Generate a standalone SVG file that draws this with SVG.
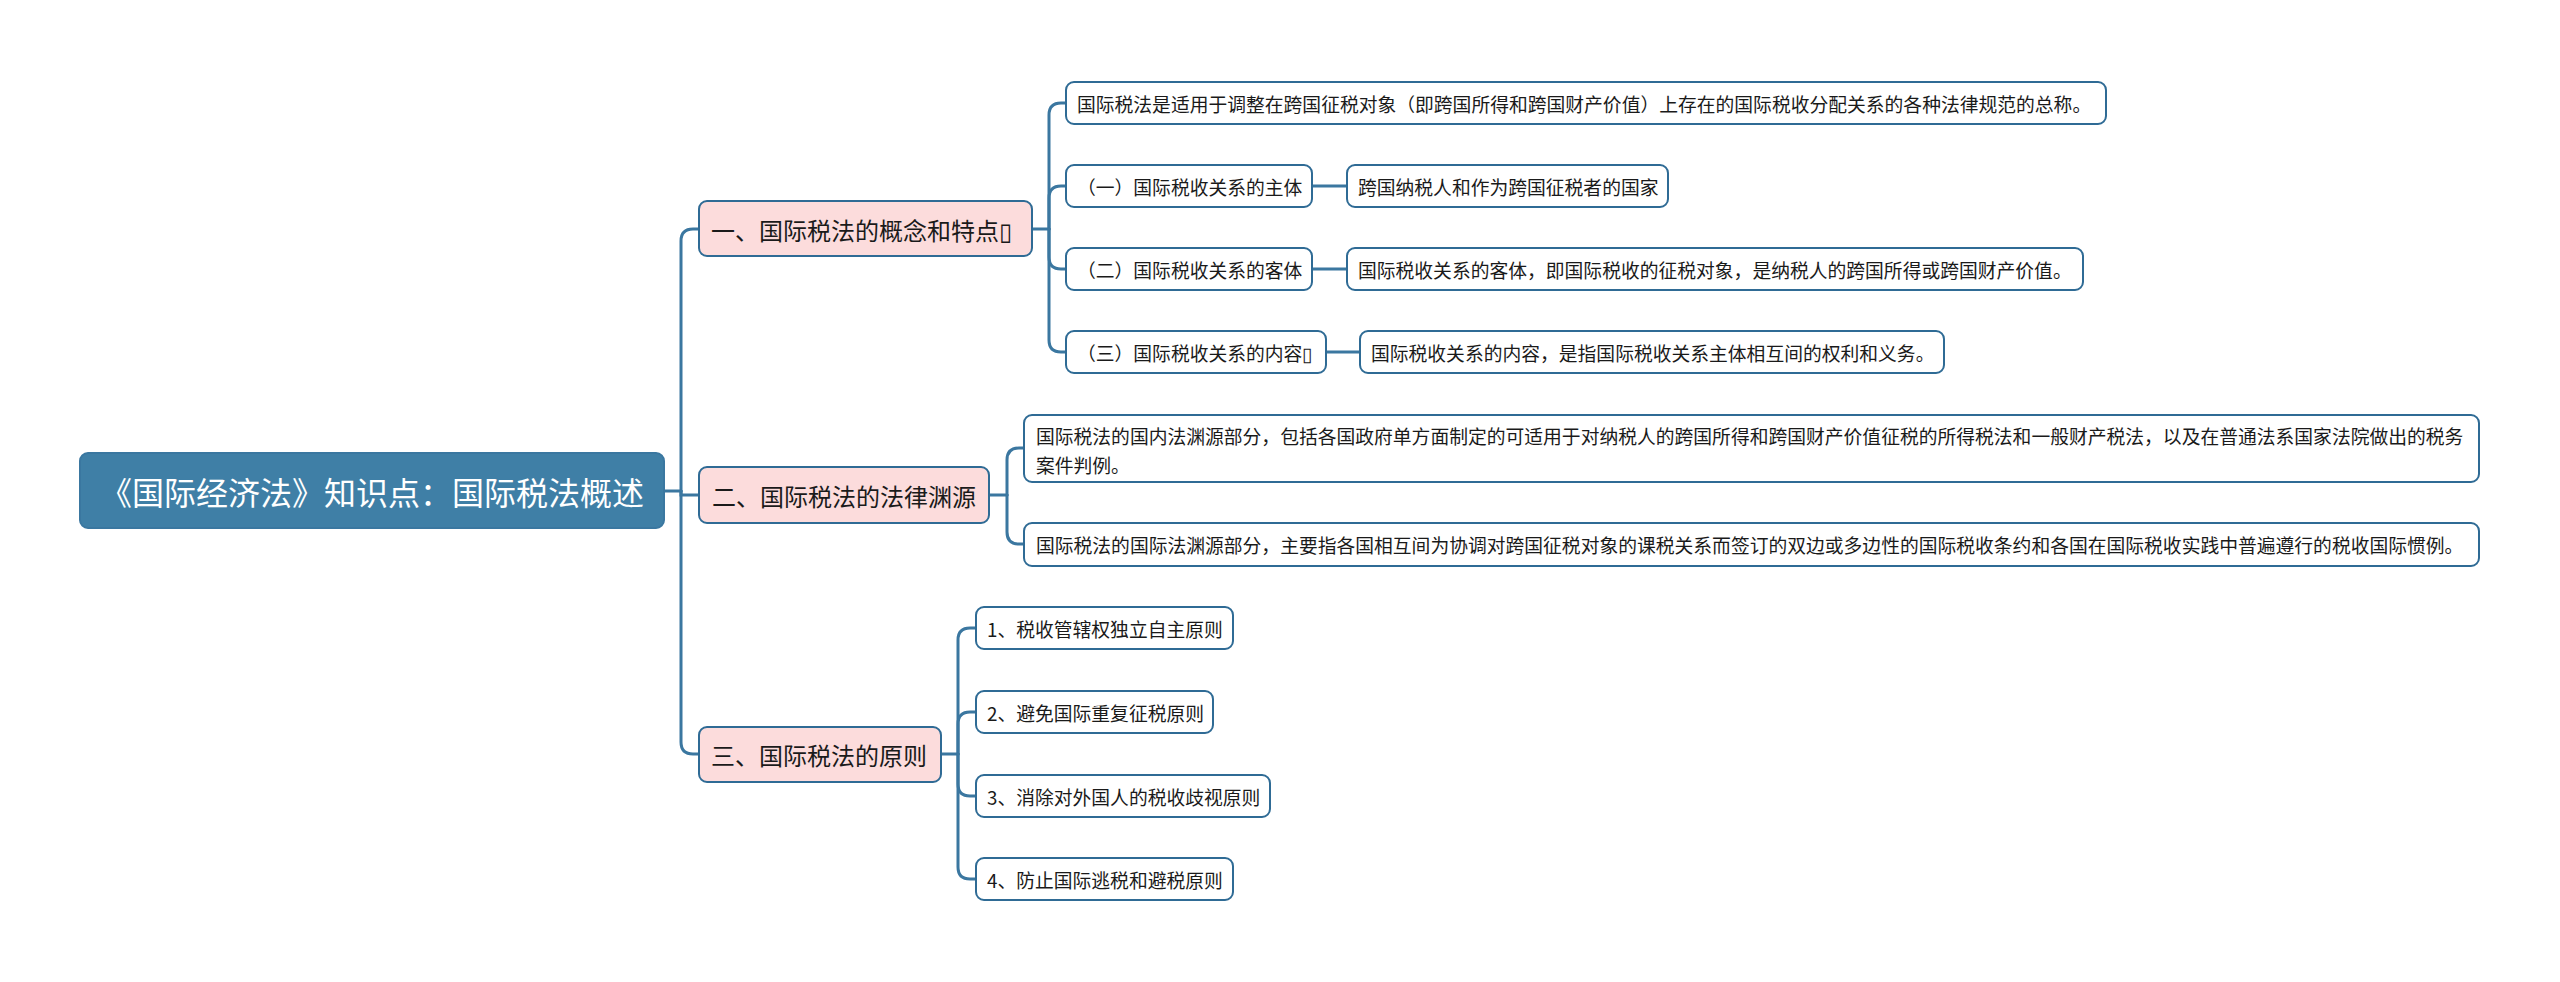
<svg xmlns="http://www.w3.org/2000/svg" width="2560" height="982" viewBox="0 0 2560 982">
<style>
text{font-family:"Noto Sans CJK SC","Microsoft YaHei",sans-serif;dominant-baseline:central;}
.root rect{fill:#3f7fa6;stroke:#3a77a0;stroke-width:2;}
.root text{fill:#ffffff;font-size:32px;}
.l1 rect{fill:#fcdcdc;stroke:#2f6b95;stroke-width:2;}
.l1 text{fill:#1a1a1a;font-size:24px;}
.l2 rect{fill:#ffffff;stroke:#2f6b95;stroke-width:2;}
.l2 text{fill:#1a1a1a;font-size:18.8px;}
.conn path{fill:none;stroke:#3b77a0;stroke-width:3;stroke-linecap:round;}
</style>
<rect width="2560" height="982" fill="#ffffff"/>
<g class="conn" id="connectors">
<path d="M664 491 H681"/>
<path d="M681 491 V241 Q681 229 693 229 H699"/>
<path d="M681 491 V742 Q681 754 693 754 H699"/>
<path d="M681 491 V495 H699"/>
<path d="M1032 229 H1049"/>
<path d="M1049 229 V115 Q1049 103 1061 103 H1066"/>
<path d="M1049 229 V198 Q1049 186 1061 186 H1066"/>
<path d="M1049 229 V257 Q1049 269 1061 269 H1066"/>
<path d="M1049 229 V340 Q1049 352 1061 352 H1066"/>
<path d="M1312 186 H1347"/>
<path d="M1312 269 H1347"/>
<path d="M1326 352 H1360"/>
<path d="M989 495 H1007"/>
<path d="M1007 495 V460 Q1007 448 1019 448 H1024"/>
<path d="M1007 495 V532 Q1007 544 1019 544 H1024"/>
<path d="M941 754 H958"/>
<path d="M958 754 V640 Q958 628 970 628 H976"/>
<path d="M958 754 V724 Q958 712 970 712 H976"/>
<path d="M958 754 V784 Q958 796 970 796 H976"/>
<path d="M958 754 V867 Q958 879 970 879 H976"/>
</g>
<g class="root" id="root"><rect x="80" y="453" width="584" height="75" rx="8"/><text x="372" y="491" text-anchor="middle">《国际经济法》知识点：国际税法概述</text></g>
<g class="l1" id="n1"><rect x="699" y="201" width="333" height="55" rx="8"/><text x="711" y="229">一、国际税法的概念和特点▯</text></g>
<g class="l1" id="n2"><rect x="699" y="467" width="290" height="56" rx="8"/><text x="712" y="495">二、国际税法的法律渊源</text></g>
<g class="l1" id="n3"><rect x="699" y="727" width="242" height="55" rx="8"/><text x="711" y="754">三、国际税法的原则</text></g>
<g class="l2" id="n1a"><rect x="1066" y="82" width="1040" height="42" rx="8"/><text x="1077" y="103">国际税法是适用于调整在跨国征税对象（即跨国所得和跨国财产价值）上存在的国际税收分配关系的各种法律规范的总称。</text></g>
<g class="l2" id="n1b"><rect x="1066" y="165" width="246" height="42" rx="8"/><text x="1077" y="186">（一）国际税收关系的主体</text></g>
<g class="l2" id="n1b1"><rect x="1347" y="165" width="321" height="42" rx="8"/><text x="1358" y="186">跨国纳税人和作为跨国征税者的国家</text></g>
<g class="l2" id="n1c"><rect x="1066" y="248" width="246" height="42" rx="8"/><text x="1077" y="269">（二）国际税收关系的客体</text></g>
<g class="l2" id="n1c1"><rect x="1347" y="248" width="736" height="42" rx="8"/><text x="1358" y="269">国际税收关系的客体，即国际税收的征税对象，是纳税人的跨国所得或跨国财产价值。</text></g>
<g class="l2" id="n1d"><rect x="1066" y="331" width="260" height="42" rx="8"/><text x="1077" y="352">（三）国际税收关系的内容▯</text></g>
<g class="l2" id="n1d1"><rect x="1360" y="331" width="584" height="42" rx="8"/><text x="1371" y="352">国际税收关系的内容，是指国际税收关系主体相互间的权利和义务。</text></g>
<g class="l2" id="n2a"><rect x="1024" y="415" width="1455" height="67" rx="8"/><text x="1036" y="435">国际税法的国内法渊源部分，包括各国政府单方面制定的可适用于对纳税人的跨国所得和跨国财产价值征税的所得税法和一般财产税法，以及在普通法系国家法院做出的税务</text><text x="1036" y="464">案件判例。</text></g>
<g class="l2" id="n2b"><rect x="1024" y="523" width="1455" height="43" rx="8"/><text x="1036" y="544">国际税法的国际法渊源部分，主要指各国相互间为协调对跨国征税对象的课税关系而签订的双边或多边性的国际税收条约和各国在国际税收实践中普遍遵行的税收国际惯例。</text></g>
<g class="l2" id="n3a"><rect x="976" y="607" width="257" height="42" rx="8"/><text x="987" y="628">1、税收管辖权独立自主原则</text></g>
<g class="l2" id="n3b"><rect x="976" y="691" width="237" height="42" rx="8"/><text x="987" y="712">2、避免国际重复征税原则</text></g>
<g class="l2" id="n3c"><rect x="976" y="775" width="294" height="42" rx="8"/><text x="987" y="796">3、消除对外国人的税收歧视原则</text></g>
<g class="l2" id="n3d"><rect x="976" y="858" width="257" height="42" rx="8"/><text x="987" y="879">4、防止国际逃税和避税原则</text></g>
</svg>
